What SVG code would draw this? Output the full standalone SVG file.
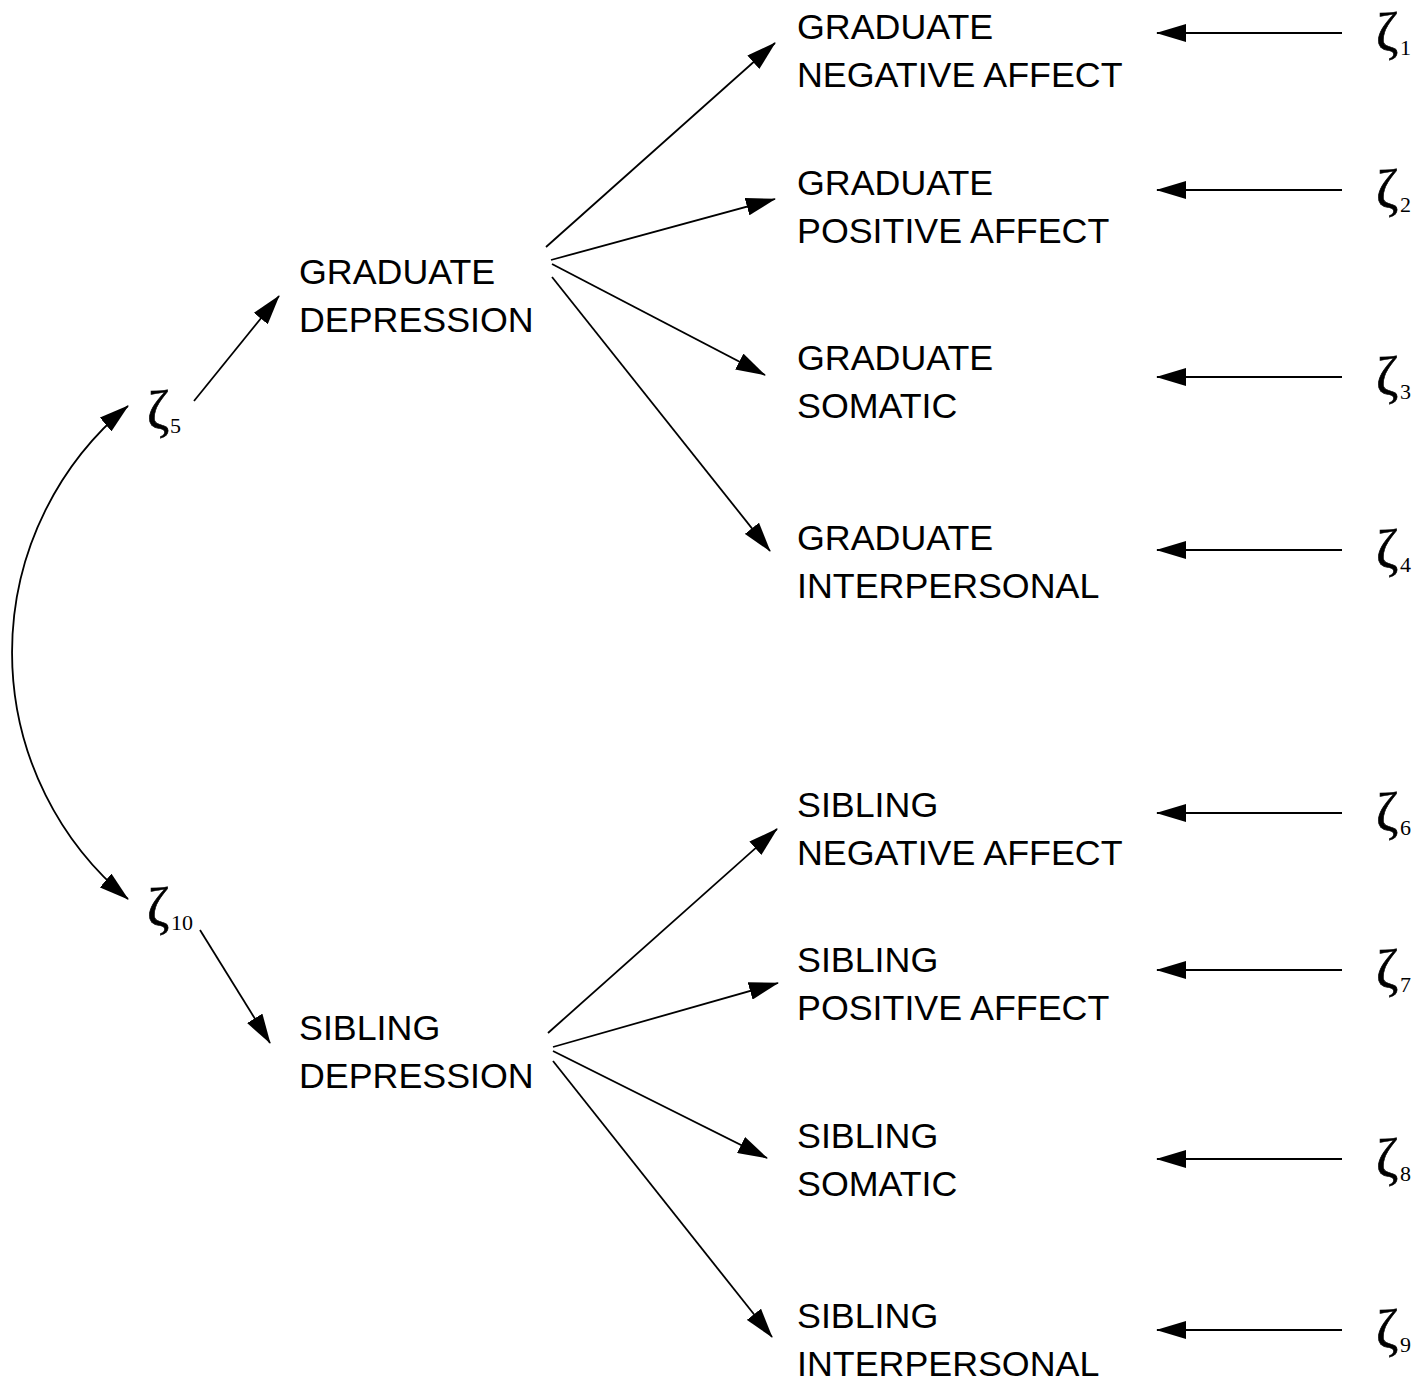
<svg xmlns="http://www.w3.org/2000/svg" width="1418" height="1381" viewBox="0 0 1418 1381">
<defs>
<marker id="ah" viewBox="0 0 30 18" markerWidth="30" markerHeight="18" refX="29" refY="9" orient="auto-start-reverse" markerUnits="userSpaceOnUse">
<path d="M0,0 L30,9 L0,18 z" fill="#000"/>
</marker>
<style>
.lbl{font-family:"Liberation Sans",Arial,sans-serif;font-size:35.8px;fill:#000}
.z{font-family:"Liberation Serif","Times New Roman",serif;font-size:54px;fill:#000;stroke:#000;stroke-width:0.6}
.zs{font-family:"Liberation Serif","Times New Roman",serif;font-size:22px;fill:#000}
.c{fill:none;stroke:#000;stroke-width:1.8;marker-end:url(#ah)}
</style>
</defs>
<rect width="1418" height="1381" fill="#fff"/>
<g id="connectors">
<path class="c" d="M128,406 A320,320 0 0 0 128,899" style="marker-start:url(#ah)"/>
<line class="c" x1="194" y1="401" x2="279" y2="296"/>
<line class="c" x1="200" y1="930" x2="270" y2="1043"/>
<line class="c" x1="546" y1="247" x2="775" y2="43"/>
<line class="c" x1="551" y1="260" x2="775" y2="199"/>
<line class="c" x1="552" y1="264" x2="765" y2="375"/>
<line class="c" x1="552" y1="277" x2="770" y2="551"/>
<line class="c" x1="548" y1="1033" x2="777" y2="829"/>
<line class="c" x1="553" y1="1047" x2="778" y2="983"/>
<line class="c" x1="553" y1="1051" x2="767" y2="1158"/>
<line class="c" x1="553" y1="1061" x2="772" y2="1337"/>
<line class="c" x1="1342" y1="33" x2="1157" y2="33"/>
<line class="c" x1="1342" y1="190" x2="1157" y2="190"/>
<line class="c" x1="1342" y1="377" x2="1157" y2="377"/>
<line class="c" x1="1342" y1="550" x2="1157" y2="550"/>
<line class="c" x1="1342" y1="813" x2="1157" y2="813"/>
<line class="c" x1="1342" y1="970" x2="1157" y2="970"/>
<line class="c" x1="1342" y1="1159" x2="1157" y2="1159"/>
<line class="c" x1="1342" y1="1330" x2="1157" y2="1330"/>
</g>
<g id="grad_dep"><text class="lbl" x="299" y="284">GRADUATE</text><text class="lbl" x="299" y="332">DEPRESSION</text></g>
<g id="sib_dep"><text class="lbl" x="299" y="1040">SIBLING</text><text class="lbl" x="299" y="1088">DEPRESSION</text></g>
<g id="grad_na"><text class="lbl" x="797" y="39">GRADUATE</text><text class="lbl" x="797" y="87">NEGATIVE AFFECT</text></g>
<g id="grad_pa"><text class="lbl" x="797" y="195">GRADUATE</text><text class="lbl" x="797" y="243">POSITIVE AFFECT</text></g>
<g id="grad_som"><text class="lbl" x="797" y="370">GRADUATE</text><text class="lbl" x="797" y="418">SOMATIC</text></g>
<g id="grad_int"><text class="lbl" x="797" y="550">GRADUATE</text><text class="lbl" x="797" y="598">INTERPERSONAL</text></g>
<g id="sib_na"><text class="lbl" x="797" y="817">SIBLING</text><text class="lbl" x="797" y="865">NEGATIVE AFFECT</text></g>
<g id="sib_pa"><text class="lbl" x="797" y="972">SIBLING</text><text class="lbl" x="797" y="1020">POSITIVE AFFECT</text></g>
<g id="sib_som"><text class="lbl" x="797" y="1148">SIBLING</text><text class="lbl" x="797" y="1196">SOMATIC</text></g>
<g id="sib_int"><text class="lbl" x="797" y="1328">SIBLING</text><text class="lbl" x="797" y="1376">INTERPERSONAL</text></g>
<g id="zeta1"><text class="z" x="1376" y="51">ζ</text><text class="zs" x="1400" y="55">1</text></g>
<g id="zeta2"><text class="z" x="1376" y="208">ζ</text><text class="zs" x="1400" y="212">2</text></g>
<g id="zeta3"><text class="z" x="1376" y="395">ζ</text><text class="zs" x="1400" y="399">3</text></g>
<g id="zeta4"><text class="z" x="1376" y="568">ζ</text><text class="zs" x="1400" y="572">4</text></g>
<g id="zeta6"><text class="z" x="1376" y="831">ζ</text><text class="zs" x="1400" y="835">6</text></g>
<g id="zeta7"><text class="z" x="1376" y="988">ζ</text><text class="zs" x="1400" y="992">7</text></g>
<g id="zeta8"><text class="z" x="1376" y="1177">ζ</text><text class="zs" x="1400" y="1181">8</text></g>
<g id="zeta9"><text class="z" x="1376" y="1348">ζ</text><text class="zs" x="1400" y="1352">9</text></g>
<g id="zeta5"><text class="z" x="147" y="429">ζ</text><text class="zs" x="170" y="433">5</text></g>
<g id="zeta10"><text class="z" x="147" y="926">ζ</text><text class="zs" x="171" y="930">10</text></g>
</svg>
